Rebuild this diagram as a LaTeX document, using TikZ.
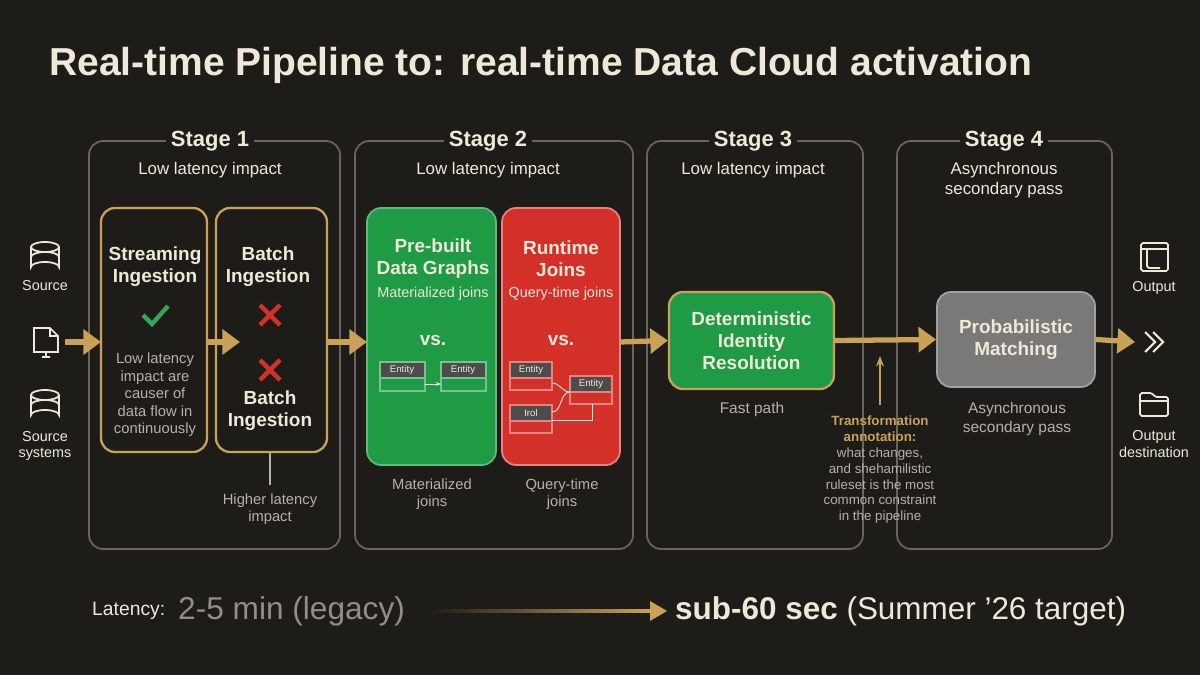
\documentclass[tikz,border=0pt]{standalone}
\usepackage{fontspec}
\setmainfont{Liberation Sans}
\usetikzlibrary{positioning,arrows.meta,shapes.geometric}
\definecolor{bg}{HTML}{1E1C19}
\definecolor{cream}{HTML}{EFE8D8}
\definecolor{gold}{HTML}{C9A257}
\definecolor{frame}{HTML}{6A655C}
\definecolor{mygreen}{HTML}{1F9A45}
\definecolor{myred}{HTML}{D4302A}
\definecolor{mygray}{HTML}{7A7977}
\definecolor{soft}{HTML}{B7B1A6}
\tikzset{
  stage/.style = {draw=frame, line width=1pt, rounded corners=8pt},
  stagetitle/.style = {fill=bg, text=cream, font=\bfseries\fontsize{12.5}{14}\selectfont, inner sep=3pt},
  stagesub/.style = {text=cream, font=\fontsize{9.6}{11.5}\selectfont, align=center},
  inner/.style = {draw=gold, line width=1.3pt, rounded corners=8pt},
  boxtitle/.style = {text=cream, font=\bfseries\fontsize{10.8}{12.5}\selectfont, align=center},
  note/.style = {text=soft, font=\fontsize{8.4}{10}\selectfont, align=center},
  flow/.style = {draw=gold, line width=3pt, -{Triangle[length=10pt,width=14pt]}},
  icon/.style = {draw=cream, line width=1pt},
  entity/.style = {draw=#1!60!white, line width=0.6pt},
}
\begin{document}
\begin{tikzpicture}[x=0.02cm, y=-0.02cm]
\fill[bg] (0,0) rectangle (1200,675);
\useasboundingbox (0,0) rectangle (1200,675);
% Title
\node[anchor=west, text=cream, font=\bfseries\fontsize{22.2}{25}\selectfont] (title) at (43,65) {Real-time Pipeline to: real-time Data Cloud activation};
% Stage frames
\draw[stage] (89,141) rectangle (340,549);
\draw[stage] (355,141) rectangle (633,549);
\draw[stage] (647,141) rectangle (863,549);
\draw[stage] (897,141) rectangle (1112,549);
\node[stagetitle] (s1) at (210,141) {Stage 1};
\node[stagetitle] (s2) at (488,141) {Stage 2};
\node[stagetitle] (s3) at (753,141) {Stage 3};
\node[stagetitle] (s4) at (1004,141) {Stage 4};
\node[stagesub] at (210,170) {Low latency impact};
\node[stagesub] at (488,170) {Low latency impact};
\node[stagesub] at (753,170) {Low latency impact};
\node[stagesub] at (1004,180) {Asynchronous\\secondary pass};
% Stage 1 boxes
\draw[inner] (101,208) rectangle (207,452);
\draw[inner] (216,208) rectangle (327,452);
\coordinate (stream) at (101,342);
\coordinate (streamR) at (207,342);
\coordinate (batch) at (240,342);
\coordinate (batchR) at (327,342);
\node[boxtitle] at (155,267) {Streaming\\Ingestion};
\draw[draw=mygreen!90!white, line width=2.5pt] (143,315) -- (152,324) -- (168,306);
\node[note] at (155,395) {Low latency\\impact are\\causer of\\data flow in\\continuously};
\node[boxtitle] at (268,267) {Batch\\Ingestion};
\foreach \y in {315,370}
  \draw[myred, line width=2.5pt] (260,\y-10) -- (280,\y+10) (260,\y+10) -- (280,\y-10);
\node[boxtitle] at (270,411) {Batch\\Ingestion};
\draw[soft, line width=0.8pt] (270,453) -- (270,485);
\node[note] at (270,509) {Higher latency\\impact};
% Stage 2 boxes
\fill[mygreen, draw=mygreen!70!white, line width=1pt, rounded corners=8pt] (367,208) rectangle (496,465);
\fill[myred, draw=myred!60!white, line width=1pt, rounded corners=8pt] (502,208) rectangle (620,465);
\coordinate (graphL) at (367,342);
\coordinate (joinsR) at (620,342);
\node[boxtitle] at (433,259) {Pre-built\\Data Graphs};
\node[stagesub, font=\fontsize{8.2}{10}\selectfont] at (433,294) {Materialized joins};
\node[boxtitle] at (561,259) {Runtime\\Joins};
\node[stagesub, font=\fontsize{8.2}{10}\selectfont] at (561,294) {Query-time joins};
\node[boxtitle] at (433,340) {vs.};
\node[boxtitle] at (561,340) {vs.};
% entity tables
\foreach \x/\n in {380/ga,441/gb} {
  \fill[black!70] (\x,362) rectangle (\x+45,378);
  \draw[entity=mygreen] (\x,362) rectangle (\x+45,391) (\x,378) -- (\x+45,378);
  \node[text=cream, font=\fontsize{5.5}{6}\selectfont] (\n) at (\x+22,370) {Entity};
}
\draw[cream!80, -{Stealth[length=3pt]}, line width=0.5pt] (425,384) -- (441,384);
\foreach \x/\y/\t/\n in {510/362/Entity/ra,570/376/Entity/rb,510/405/Irol/rc} {
  \fill[black!70] (\x,\y) rectangle (\x+42,\y+16);
  \draw[entity=myred] (\x,\y) rectangle (\x+42,\y+28) (\x,\y+16) -- (\x+42,\y+16);
  \node[text=cream, font=\fontsize{5.5}{6}\selectfont] (\n) at (\x+21,\y+8) {\t};
}
\draw[cream!70, line width=0.5pt] (552,383) to[out=0,in=180] (570,392);
\draw[cream!70, line width=0.5pt] (552,412) to[out=0,in=180] (570,392);
\draw[cream!70, line width=0.5pt] (552,420) -- (592,420) -- (592,404);
\node[note] at (432,494) {Materialized\\joins};
\node[note] at (562,494) {Query-time\\joins};
% Stage 3
\node[draw=gold, line width=1.3pt, fill=mygreen, rounded corners=8pt, inner sep=0pt,
  minimum width=3.3cm, minimum height=1.94cm, boxtitle] (det) at (751.5,340.5) {Deterministic\\Identity\\Resolution};
\node[note, font=\fontsize{8.8}{10}\selectfont] at (752,410) {Fast path};
% Stage 4
\node[draw=mygray!70!white, line width=1pt, fill=mygray, rounded corners=8pt, inner sep=0pt,
  minimum width=3.16cm, minimum height=1.9cm, boxtitle] (prob) at (1016,339.5) {Probabilistic\\Matching};
\node[note, font=\fontsize{8.8}{10.5}\selectfont] at (1017,419) {Asynchronous\\secondary pass};
% annotation
\coordinate (annot) at (880,405);
\node[note, font=\fontsize{7.6}{9}\selectfont, anchor=north] (anno) at (880,410)
  {\textcolor{gold}{\bfseries Transformation}\\\textcolor{gold}{\bfseries annotation:}\\what changes,\\and shehamilistic\\ruleset is the most\\common constraint\\in the pipeline};
% Icons left
\foreach \y in {257,405} {
  \draw[icon] (31,\y-10) -- (31,\y+10) arc[start angle=180,end angle=360,x radius=14,y radius=5] -- (59,\y-10);
  \draw[icon] (45,\y-10) ellipse[x radius=14,y radius=5];
  \draw[icon] (31,\y) arc[start angle=180,end angle=360,x radius=14,y radius=5];
}
\draw[icon] (34,328) -- (50,328) -- (58,336) -- (58,352) -- (34,352) -- cycle (50,328) -- (50,336) -- (58,336) (46,352) -- (46,357) (42,357) -- (50,357);
\node[text=cream, font=\fontsize{8.2}{9.5}\selectfont] at (45,286) {Source};
\node[text=cream, font=\fontsize{8.2}{9.5}\selectfont, align=center] at (45,446) {Source\\systems};
\coordinate (src) at (65,342);
% Icons right
\draw[icon, rounded corners=1pt] (1141,243) rectangle (1168,271) (1141,249) -- (1168,249) (1147,249) -- (1147,268) -- (1160,268);
\draw[icon, line width=1.2pt] (1145,332) -- (1155,342) -- (1145,352) (1153,332) -- (1163,342) -- (1153,352);
\draw[icon, rounded corners=1pt] (1140,393) -- (1152,393) -- (1155,397) -- (1168,397) -- (1168,416) -- (1140,416) -- cycle (1140,401) -- (1168,401);
\node[text=cream, font=\fontsize{8.2}{9.5}\selectfont] at (1154,288) {Output};
\node[text=cream, font=\fontsize{8.2}{9.5}\selectfont, align=center] at (1154,444) {Output\\destination};
\coordinate (out) at (1135,342);
% Flow arrows
\draw[flow] (src) -- (stream);
\draw[flow] (streamR) -- (batch);
\draw[flow] (batchR) -- (graphL);
\draw[flow] (joinsR) -- (det.west);
\draw[flow] (det.east) -- (prob.west);
\draw[flow] (prob.east) -- (out);
\draw[gold, line width=1pt, -{Stealth[length=6pt]}] (annot) -- (880,356);
% Latency bar
\node[anchor=west, text=cream, font=\fontsize{11}{13}\selectfont] (lat) at (86,611) {Latency:};
\node[anchor=west, text=soft!80!black, font=\fontsize{18}{21}\selectfont] (legacy) at (172,611) {2-5 min (legacy)};
\node[anchor=west, text=cream, font=\fontsize{17.9}{21}\selectfont] (target) at (669,611) {\textbf{sub-60 sec} (Summer ’26 target)};
\shade[left color=bg, right color=gold] (430,609.5) rectangle (652,612.5);
\fill[gold] (650,601) -- (667,611) -- (650,621) -- cycle;
\end{tikzpicture}
\end{document}
